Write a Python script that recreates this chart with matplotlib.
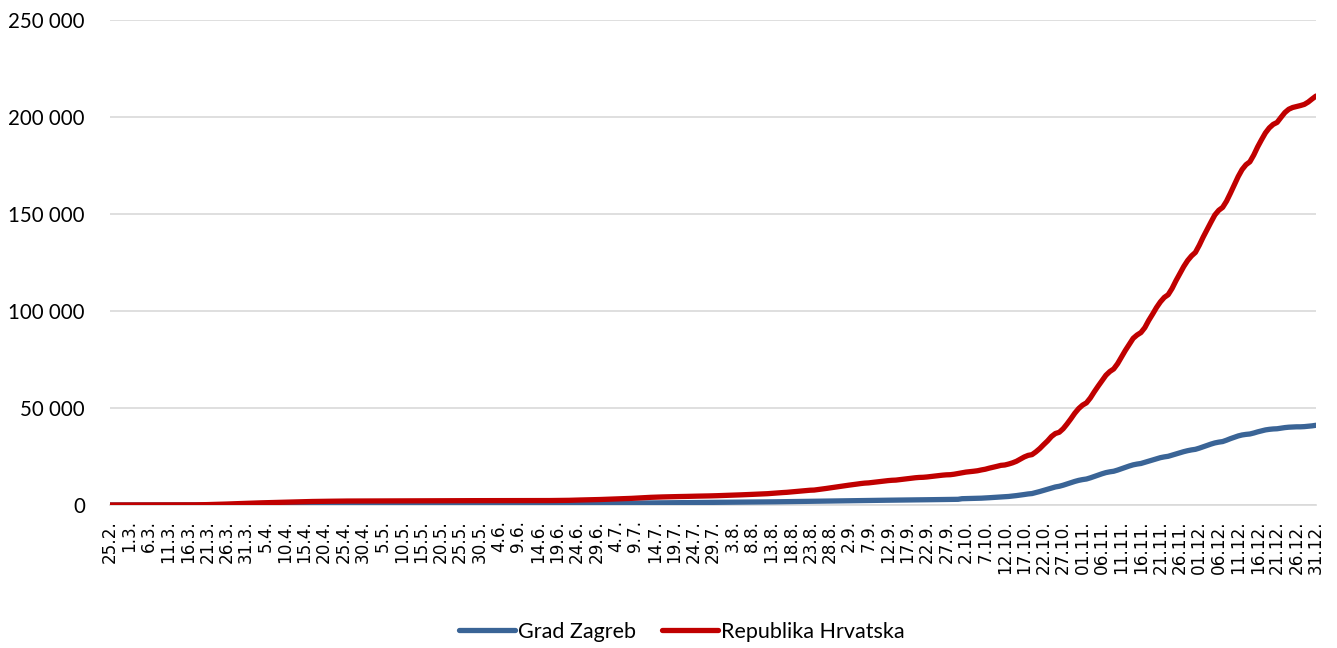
import matplotlib
matplotlib.use("Agg")
import matplotlib.pyplot as plt
import numpy as np
import datetime as dt

# ---- data (cumulative cases, daily 25.2.2020 - 31.12.2020) ----
hr_feb = [1, 3, 3, 5, 7]
hr_mar = [7, 7, 9, 10, 10, 11, 12, 12, 12, 14, 16, 27, 32, 38, 49, 57, 65, 81, 105, 128,
          206, 254, 315, 382, 442, 495, 586, 657, 713, 790, 867]
hr_apr = [963, 1011, 1079, 1126, 1182, 1222, 1282, 1343, 1407, 1495, 1534, 1600, 1650, 1704, 1741,
          1791, 1814, 1832, 1871, 1881, 1908, 1950, 1981, 2016, 2030, 2039, 2047, 2062, 2076, 2088]
hr_may = [2096, 2107, 2119, 2125, 2145, 2157, 2165, 2176, 2187, 2196, 2205, 2213, 2221, 2224, 2226,
          2228, 2228, 2232, 2234, 2237, 2239, 2239, 2243, 2243, 2244, 2244, 2245, 2245, 2246, 2246, 2246]
hr_jun = [2246, 2246, 2246, 2247, 2247, 2247, 2247, 2247, 2249, 2249, 2251, 2252, 2254, 2258, 2269,
          2280, 2299, 2317, 2336, 2366, 2388, 2416, 2483, 2539, 2585, 2623, 2673, 2725, 2777, 2831]
hr_jul = [2912, 3008, 3060, 3126, 3220, 3272, 3325, 3416, 3532, 3672, 3775, 3831, 3953, 4039, 4090,
          4156, 4214, 4272, 4298, 4345, 4370, 4422, 4480, 4534, 4567, 4587, 4634, 4682, 4715, 4792, 4881]
hr_aug = [4950, 5010, 5070, 5140, 5220, 5320, 5400, 5470, 5550, 5630, 5720, 5830, 5990, 6180, 6340,
          6420, 6540, 6720, 6900, 7100, 7280, 7480, 7620, 7700, 7950, 8220, 8500, 8800, 9100, 9400, 9700]
hr_sep = [10000, 10250, 10500, 10780, 11060, 11280, 11400, 11620, 11860, 12100, 12360, 12570, 12740,
          12830, 13080, 13340, 13590, 13820, 14040, 14210, 14280, 14450, 14700, 14930, 15150, 15380,
          15550, 15620, 15880, 16245]
hr_oct = [16593, 16957, 17160, 17401, 17659, 18084, 18447, 18989, 19446, 19932, 20440, 20621, 21124,
          21741, 22534, 23665, 24761, 25580, 25973, 27402, 29105, 31129, 33042, 35298, 36847, 37489,
          39288, 41757, 44458, 47324, 49716]
hr_nov = [51495, 52660, 55180, 58326, 61261, 64053, 66883, 68795, 70138, 72840, 76306, 79708, 82829,
          85905, 87628, 88887, 91430, 95139, 98400, 101800, 104700, 107000, 108400, 111600, 115600,
          119300, 122900, 126000, 128400, 130200]
hr_dec = [133900, 138100, 142000, 145800, 149500, 151900, 153400, 156600, 160700, 165000, 169300,
          172900, 175400, 176900, 180400, 184600, 188300, 191800, 194400, 196200, 197200, 199800,
          202300, 204000, 204900, 205400, 205900, 206500, 207700, 209300, 210800]

zg_feb = [1, 2, 2, 3, 4]
zg_mar = [4, 4, 5, 5, 5, 5, 6, 6, 6, 7, 8, 12, 15, 18, 22, 25, 28, 35, 45, 55, 80, 100, 120, 140,
          160, 180, 210, 235, 250, 270, 290]
zg_apr = [310, 325, 345, 360, 375, 390, 405, 420, 440, 460, 470, 490, 500, 515, 525, 535, 545, 550,
          560, 565, 570, 575, 580, 585, 590, 592, 595, 598, 600, 603]
zg_may = [605, 607, 609, 610, 612, 614, 615, 616, 617, 618, 619, 620, 620, 621, 621, 622, 622, 622,
          623, 623, 623, 624, 624, 624, 624, 624, 624, 625, 625, 625, 625]
zg_jun = [625, 625, 625, 625, 625, 625, 625, 625, 626, 626, 626, 627, 627, 628, 630, 633, 638, 643,
          650, 660, 670, 680, 700, 715, 730, 745, 760, 775, 790, 805]
zg_jul = [825, 850, 870, 890, 910, 930, 950, 975, 1000, 1030, 1060, 1080, 1110, 1130, 1150, 1170,
          1190, 1210, 1220, 1235, 1245, 1260, 1275, 1290, 1300, 1310, 1325, 1340, 1355, 1375, 1395]
zg_aug = [1410, 1425, 1440, 1455, 1470, 1490, 1505, 1520, 1535, 1550, 1570, 1590, 1620, 1650, 1680,
          1700, 1720, 1750, 1780, 1810, 1840, 1870, 1890, 1905, 1930, 1960, 1995, 2030, 2070, 2100, 2130]
zg_sep = [2160, 2190, 2220, 2250, 2280, 2305, 2320, 2350, 2380, 2410, 2440, 2470, 2490, 2500, 2530,
          2560, 2590, 2620, 2650, 2670, 2680, 2710, 2740, 2770, 2800, 2830, 2850, 2860, 2890, 2930]
zg_oct = [3250, 3300, 3350, 3400, 3440, 3520, 3620, 3750, 3880, 4020, 4150, 4250, 4400, 4600, 4850,
          5100, 5400, 5700, 5900, 6400, 6950, 7550, 8200, 8800, 9300, 9650, 10200, 10850, 11500,
          12150, 12700]
zg_nov = [13100, 13400, 14000, 14700, 15400, 16100, 16700, 17100, 17400, 18000, 18700, 19400, 20100,
          20700, 21100, 21400, 22000, 22600, 23200, 23800, 24400, 24800, 25100, 25700, 26300, 26900,
          27500, 28000, 28400, 28700]
zg_dec = [29300, 30000, 30700, 31400, 32000, 32400, 32700, 33400, 34200, 34900, 35600, 36100, 36400,
          36600, 37100, 37700, 38200, 38700, 39000, 39200, 39300, 39600, 39900, 40100, 40200, 40300,
          40300, 40400, 40600, 40800, 41100]

hrvatska = (hr_feb + hr_mar + hr_apr + hr_may + hr_jun + hr_jul + hr_aug + hr_sep
            + hr_oct + hr_nov + hr_dec)
zagreb = (zg_feb + zg_mar + zg_apr + zg_may + zg_jun + zg_jul + zg_aug + zg_sep
          + zg_oct + zg_nov + zg_dec)

start_date = dt.date(2020, 2, 25)
dates = [start_date + dt.timedelta(days=i) for i in range(len(hrvatska))]


def fmt_label(d):
    if d.month >= 11:
        return f"{d.day:02d}.{d.month}."
    return f"{d.day}.{d.month}."


labels = [fmt_label(d) for d in dates]
label_step = 5

series_names = ["Grad Zagreb", "Republika Hrvatska"]
series_colors = ["#3A6496", "#C00000"]

# ---- figure ----
W, H, DPI = 1337, 648, 100
fig = plt.figure(figsize=(W / DPI, H / DPI), dpi=DPI)
ax = fig.add_axes([110 / W, 1 - 505 / H, (1316 - 110) / W, (505 - 20) / H])

x = np.arange(len(dates))
ax.plot(x, zagreb, color=series_colors[0], lw=3.8, solid_capstyle="round",
        solid_joinstyle="round", label=series_names[0], zorder=3)
ax.plot(x, hrvatska, color=series_colors[1], lw=3.8, solid_capstyle="round",
        solid_joinstyle="round", label=series_names[1], zorder=3)

ax.set_xlim(0, len(dates) - 1)
ax.set_ylim(0, 250000)
ax.set_yticks(np.arange(0, 250001, 50000))
ax.set_yticklabels([f"{int(v):,}".replace(",", " ") for v in np.arange(0, 250001, 50000)],
                   fontfamily="Lato", fontsize=14.8, color="#000000")
ax.grid(axis="y", color="#D9D9D9", lw=1.2, zorder=0)
ax.tick_params(axis="y", length=0, pad=18)

tick_idx = list(range(0, len(dates), label_step))
ax.set_xticks(tick_idx)
ax.set_xticklabels([labels[i] for i in tick_idx], rotation=90, fontfamily="DejaVu Sans",
                   fontsize=12.2, color="#000000", va="top", ha="center")
ax.tick_params(axis="x", length=0, pad=11)

for s in ["top", "right", "left"]:
    ax.spines[s].set_visible(False)
ax.spines["bottom"].set_color("#D9D9D9")
ax.spines["bottom"].set_linewidth(1.2)

leg = fig.legend(loc="center", bbox_to_anchor=(682 / W, 1 - 632 / H), ncol=2, frameon=False,
                 prop={"family": "Lato", "size": 15.5}, handlelength=2.6, handletextpad=0.15,
                 columnspacing=1.2)

fig.savefig("out.png", dpi=DPI, facecolor="white")
